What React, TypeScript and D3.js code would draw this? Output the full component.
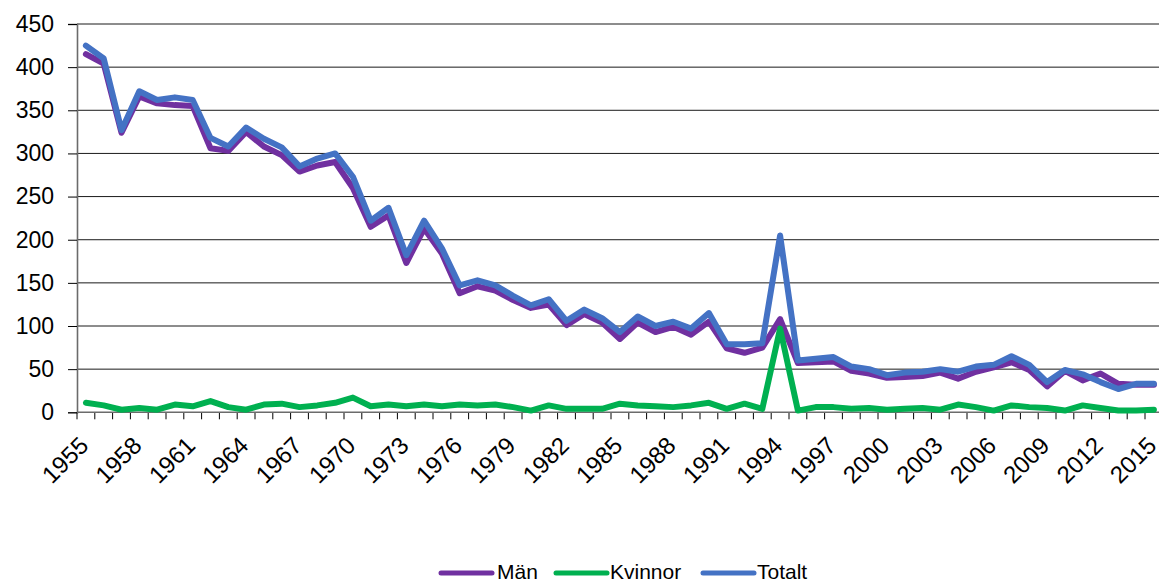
import React, { useEffect, useRef } from 'react';
import * as d3 from 'd3';

const years = d3.range(1955, 2016);

const man = [
  415, 404, 324, 366, 358, 356, 355, 306, 303, 325, 308, 298, 279, 286, 290, 260, 215, 228, 173, 213,
  184, 138, 146, 141, 130, 121, 125, 101, 114, 104, 85, 104, 93, 99, 90, 105, 74, 69, 75, 108,
  57, 58, 59, 48, 45, 40, 41, 42, 46, 39, 47, 52, 58, 49, 30, 48, 37, 45, 33, 32, 32,
];

const kvinnor = [
  11, 8, 3, 5, 3, 9, 7, 13, 6, 3, 9, 10, 6, 8, 11, 17, 7, 9, 7, 9,
  7, 9, 8, 9, 6, 2, 8, 4, 4, 4, 10, 8, 7, 6, 8, 11, 4, 10, 4, 97,
  2, 6, 6, 4, 5, 3, 4, 5, 3, 9, 6, 2, 8, 6, 5, 2, 8, 5, 2, 2, 3,
];

const totalt = [
  425, 410, 327, 372, 362, 365, 362, 318, 308, 330, 317, 307, 285, 294, 300, 273, 222, 237, 182, 222,
  190, 147, 153, 147, 135, 124, 131, 106, 119, 109, 93, 111, 100, 105, 97, 115, 79, 79, 80, 205,
  60, 62, 64, 53, 50, 43, 46, 47, 50, 47, 53, 55, 65, 55, 35, 49, 44, 35, 27, 33, 33,
];

const yTicks = [0, 50, 100, 150, 200, 250, 300, 350, 400, 450];
const labelYears = years.filter((y) => (y - 1955) % 3 === 0);

const series = [
  { name: 'Män', values: man, color: '#7030A0' },
  { name: 'Kvinnor', values: kvinnor, color: '#00B050' },
  { name: 'Totalt', values: totalt, color: '#4472C4' },
];

const W = 1159;
const H = 583;
const font = 'Liberation Sans, Arial, sans-serif';

const App: React.FC = () => {
  const yAxisRef = useRef<SVGGElement>(null);
  const xAxisRef = useRef<SVGGElement>(null);

  const left = 77;
  const step = 17.8;
  const x = d3
    .scalePoint<number>()
    .domain(years)
    .range([left, left + step * years.length])
    .padding(0.5);
  const y = d3.scaleLinear().domain([0, 450]).range([412.3, 24]);

  const line = d3
    .line<number>()
    .x((d, i) => x(years[i]) as number)
    .y((d) => y(d));

  useEffect(() => {
    const gy = d3.select(yAxisRef.current);
    gy.selectAll('*').remove();
    gy.call(d3.axisLeft(y).tickValues(yTicks).tickSize(9).tickPadding(14) as any);
    gy.select('.domain').attr('stroke', '#6b6b6b').attr('stroke-width', 1.6);
    gy.selectAll('.tick line').attr('stroke', '#000');
    gy.selectAll('.tick text')
      .attr('font-family', font)
      .attr('font-size', 23)
      .attr('fill', '#000');

    // ticks between categories, labels every third year
    const gx = d3.select(xAxisRef.current);
    gx.selectAll('*').remove();
    const bounds = d3.range(years.length + 1).map((i) => left + i * step);
    gx.selectAll('line.tk')
      .data(bounds)
      .enter()
      .append('line')
      .attr('class', 'tk')
      .attr('x1', (d) => d)
      .attr('x2', (d) => d)
      .attr('y1', y(0))
      .attr('y2', y(0) + 7)
      .attr('stroke', '#000');
    gx.append('line')
      .attr('x1', left)
      .attr('x2', W)
      .attr('y1', y(0))
      .attr('y2', y(0))
      .attr('stroke', '#6b6b6b')
      .attr('stroke-width', 1.6);
    gx.selectAll('text.lbl')
      .data(labelYears)
      .enter()
      .append('text')
      .attr('class', 'lbl')
      .attr('transform', (d) => `translate(${(x(d) as number) - 2},441) rotate(-45)`)
      .attr('text-anchor', 'end')
      .attr('dy', '0.35em')
      .attr('font-family', font)
      .attr('font-size', 24)
      .text((d) => String(d));
  }, []);

  const legend = [
    { lx: 438, tx: 497 },
    { lx: 553, tx: 610 },
    { lx: 700, tx: 757 },
  ];

  return (
    <svg
      width={W}
      height={H}
      style={{ position: 'absolute', left: 0, top: 0, background: '#fff' }}
    >
      <g>
        {yTicks
          .filter((t) => t > 0)
          .map((t) => (
            <line key={t} x1={left} x2={W} y1={y(t)} y2={y(t)} stroke="#1a1a1a" strokeWidth={1} />
          ))}
      </g>
      <g ref={yAxisRef} transform={`translate(${left},0)`} />
      <g ref={xAxisRef} />
      {series.map((s) => (
        <path
          key={s.name}
          d={line(s.values) || ''}
          fill="none"
          stroke={s.color}
          strokeWidth={6}
          strokeLinejoin="round"
          strokeLinecap="round"
        />
      ))}
      <g fontFamily={font} fontSize={21}>
        {series.map((s, i) => (
          <g key={s.name}>
            <line
              x1={legend[i].lx + 3}
              x2={legend[i].lx + 54}
              y1={573}
              y2={573}
              stroke={s.color}
              strokeWidth={5}
              strokeLinecap="round"
            />
            <text x={legend[i].tx} y={571} dy="0.36em">
              {s.name}
            </text>
          </g>
        ))}
      </g>
    </svg>
  );
};

export default App;
